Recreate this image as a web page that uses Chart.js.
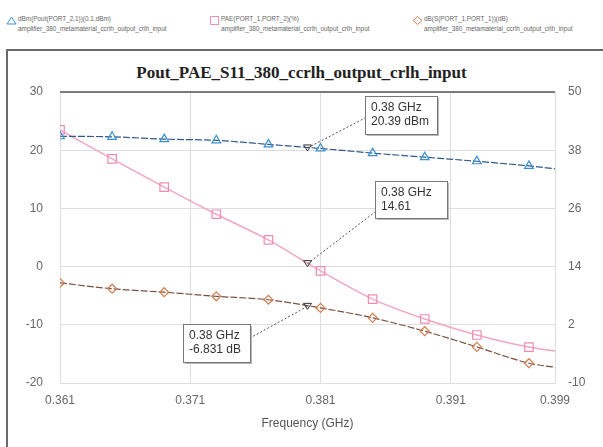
<!DOCTYPE html>
<html>
<head>
<meta charset="utf-8">
<script src="https://cdn.jsdelivr.net/npm/chart.js@4/dist/chart.umd.min.js"></script>
<style>
  body { margin: 0; background: #fff; }
  #wrap { position: relative; width: 603px; height: 447px; overflow: hidden; font-family: "Liberation Sans", Arial, sans-serif; }
  #frame { position: absolute; left: 6px; top: 49px; width: 620px; height: 420px; border: 2px solid #6a6a6a; }
  #title { position: absolute; left: 0; top: 63px; width: 603px; text-align: center; font-family: "Liberation Serif", "Times New Roman", serif; font-weight: bold; font-size: 17px; color: #222; }
  .leg { position: absolute; top: 14px; font-size: 6.4px; line-height: 10px; color: #666; white-space: nowrap; }
  .leg span { display: block; padding-left: 12px; }
  .ico { position: absolute; left: 0; top: 2px; }
  canvas { position: absolute; left: 0; top: 0; }
</style>
</head>
<body>
<div id="wrap">
  <div class="leg" style="left:6px">
    <svg class="ico" width="11" height="9"><polygon points="5.5,1 10,8 1,8" fill="none" stroke="#3b8fd0" stroke-width="1"/></svg>
    <span>dBm(Pout(PORT_2,1))(0.1,dBm)</span>
    <span>amplifier_380_metamaterial_ccrlh_output_crlh_input</span>
  </div>
  <div class="leg" style="left:209px">
    <svg class="ico" width="11" height="9"><rect x="1.5" y="0.5" width="8" height="8" fill="none" stroke="#ef8fb4" stroke-width="1"/></svg>
    <span>PAE(PORT_1,PORT_2)(%)</span>
    <span>amplifier_380_metamaterial_ccrlh_output_crlh_input</span>
  </div>
  <div class="leg" style="left:412px">
    <svg class="ico" width="11" height="9"><polygon points="5.5,0.5 10,4.5 5.5,8.5 1,4.5" fill="none" stroke="#d08050" stroke-width="1"/></svg>
    <span>dB(S(PORT_1,PORT_1))(dB)</span>
    <span>amplifier_380_metamaterial_ccrlh_output_crlh_input</span>
  </div>
  <div id="frame"></div>
  <div id="title">Pout_PAE_S11_380_ccrlh_output_crlh_input</div>
  <canvas id="grafico" width="603" height="447"></canvas>
</div>
<script>
// frecuencias (GHz) y valores
const freq = [0.361, 0.365, 0.369, 0.373, 0.377, 0.381, 0.385, 0.389, 0.393, 0.397, 0.399];
const pout = [22.4, 22.3, 21.9, 21.7, 21.0, 20.3, 19.5, 18.8, 18.1, 17.3, 16.8];   // dBm, eje izq
const pae  = [42.2, 36.2, 30.4, 24.8, 19.5, 13.1, 7.3, 3.2, -0.1, -2.6, -3.4];     // %, eje der
const s11  = [-2.8, -3.8, -4.4, -5.1, -5.7, -7.1, -8.8, -11.1, -13.8, -16.6, -17.3]; // dB, eje izq

const xTicks = [0.361, 0.371, 0.381, 0.391, 0.399];
const leftTicks = [-20, -10, 0, 10, 20, 30];
const rightTicks = [-10, 2, 14, 26, 38, 50];

// marcadores en 0.38 GHz
const mFreq = 0.38;
const mPout = 20.39, mPae = 14.61, mS11 = -6.831;

const pts = ys => freq.map((f, i) => ({ x: f, y: ys[i] }));
const radios = freq.map((f, i) => i === freq.length - 1 ? 0 : 5);

const marcas = {
  id: 'marcas',
  afterDatasetsDraw(chart) {
    const ctx = chart.ctx;
    const x = chart.scales.x, yl = chart.scales.y, yr = chart.scales.y2;
    const a = chart.chartArea;

    // borde superior oscuro
    ctx.save();
    ctx.strokeStyle = '#555';
    ctx.lineWidth = 1.5;
    ctx.beginPath();
    ctx.moveTo(a.left, a.top);
    ctx.lineTo(a.right, a.top);
    ctx.stroke();

    const px = x.getPixelForValue(mFreq);
    const notas = [
      { y: yl.getPixelForValue(mPout), box: [365, 96, 72, 38], to: [365, 118], txt: ['0.38 GHz', '20.39 dBm'] },
      { y: yr.getPixelForValue(mPae), box: [375, 181, 72, 37], to: [375, 212], txt: ['0.38 GHz', '14.61'] },
      { y: yl.getPixelForValue(mS11), box: [183, 324, 67, 38], to: [250, 338], txt: ['0.38 GHz', '-6.831 dB'] }
    ];
    notas.forEach(n => {
      // linea guia
      ctx.setLineDash([2, 2]);
      ctx.strokeStyle = '#555';
      ctx.lineWidth = 1;
      ctx.beginPath();
      ctx.moveTo(px, n.y);
      ctx.lineTo(n.to[0], n.to[1]);
      ctx.stroke();
      ctx.setLineDash([]);
      // triangulo invertido
      ctx.strokeStyle = '#333';
      ctx.beginPath();
      ctx.moveTo(px - 4, n.y - 3);
      ctx.lineTo(px + 4, n.y - 3);
      ctx.lineTo(px, n.y + 3);
      ctx.closePath();
      ctx.stroke();
      // caja
      const [bx, by, bw, bh] = n.box;
      ctx.fillStyle = '#b8b8b8';
      ctx.fillRect(bx + 2, by + 2, bw, bh);
      ctx.fillStyle = '#fff';
      ctx.fillRect(bx, by, bw, bh);
      ctx.strokeStyle = '#777';
      ctx.strokeRect(bx + 0.5, by + 0.5, bw, bh);
      ctx.fillStyle = '#333';
      ctx.font = '12px "Liberation Sans", Arial, sans-serif';
      ctx.textBaseline = 'middle';
      ctx.fillText(n.txt[0], bx + 6, by + 12);
      ctx.fillText(n.txt[1], bx + 6, by + 26);
    });
    ctx.restore();
  }
};

const fuente = { family: '"Liberation Sans", Arial, sans-serif', size: 12 };

new Chart(document.getElementById('grafico'), {
  type: 'line',
  data: {
    datasets: [
      {
        label: 'Pout', data: pts(pout), yAxisID: 'y',
        borderColor: '#2f5a8c', borderWidth: 1.2, borderDash: [7, 2],
        pointStyle: 'triangle', pointRadius: radios, pointBorderColor: '#3b8fd0',
        pointBackgroundColor: 'rgba(255,255,255,0)', pointBorderWidth: 1.2,
        cubicInterpolationMode: 'monotone'
      },
      {
        label: 'PAE', data: pts(pae), yAxisID: 'y2',
        borderColor: '#f2a6c4', borderWidth: 1.5,
        pointStyle: 'rect', pointRadius: radios.map(r => r * 1.2), pointBorderColor: '#ec8cb2',
        pointBackgroundColor: 'rgba(255,255,255,0)', pointBorderWidth: 1.2,
        cubicInterpolationMode: 'monotone'
      },
      {
        label: 'S11', data: pts(s11), yAxisID: 'y',
        borderColor: '#7a5040', borderWidth: 1.2, borderDash: [7, 2],
        pointStyle: 'rectRot', pointRadius: radios.map(r => r * 0.9), pointBorderColor: '#d08050',
        pointBackgroundColor: 'rgba(255,255,255,0)', pointBorderWidth: 1.2,
        cubicInterpolationMode: 'monotone'
      }
    ]
  },
  options: {
    responsive: false,
    animation: false,
    layout: { padding: { top: 92, left: 0, right: 0, bottom: 12 } },
    plugins: { legend: { display: false }, tooltip: { enabled: false }, title: { display: false } },
    scales: {
      x: {
        type: 'linear', min: 0.361, max: 0.399,
        afterBuildTicks: s => { s.ticks = xTicks.map(v => ({ value: v })); },
        afterFit: s => { s.height = 52; },
        grid: { color: '#dedede', drawTicks: false },
        border: { color: '#dedede' },
        ticks: { padding: 10, color: '#666', font: fuente, maxRotation: 0, callback: v => v.toFixed(3) },
        title: { display: true, text: 'Frequency (GHz)', color: '#555', font: fuente, padding: { top: 2 } }
      },
      y: {
        position: 'left', min: -20, max: 30,
        afterBuildTicks: s => { s.ticks = leftTicks.map(v => ({ value: v })); },
        afterFit: s => { s.width = 60; },
        grid: { color: '#dedede', drawTicks: false },
        border: { color: '#dedede' },
        ticks: { padding: 17, color: '#666', font: fuente }
      },
      y2: {
        position: 'right', min: -10, max: 50,
        afterBuildTicks: s => { s.ticks = rightTicks.map(v => ({ value: v })); },
        afterFit: s => { s.width = 48; },
        grid: { drawOnChartArea: false, drawTicks: false },
        border: { color: '#dedede' },
        ticks: { padding: 13, color: '#666', font: fuente }
      }
    }
  },
  plugins: [marcas]
});
</script>
</body>
</html>
